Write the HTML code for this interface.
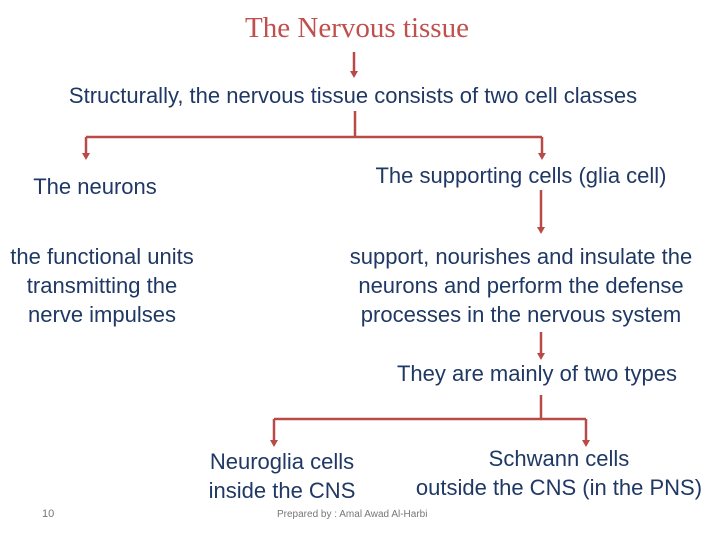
<!DOCTYPE html>
<html><head><style>
body{margin:0;width:720px;height:540px;background:#fff;position:relative;overflow:hidden;font-family:"Liberation Sans",sans-serif;}
.t{position:absolute;color:#1f3864;font-size:22px;text-align:center;white-space:nowrap;line-height:29px;transform:translateX(-50%);}
</style></head><body>
<div style="position:absolute;left:357px;top:12px;transform:translateX(-50%);font-family:'Liberation Serif',serif;font-size:29px;color:#c0504d;white-space:nowrap">The Nervous tissue</div>
<svg width="720" height="540" style="position:absolute;left:0;top:0">
<g stroke="#b84a47" stroke-width="2.5" fill="none">
<line x1="354" y1="52" x2="354" y2="72"/>
<polyline points="355,111 355,137"/>
<line x1="86" y1="137" x2="542" y2="137"/>
<line x1="86" y1="137" x2="86" y2="154"/>
<line x1="542" y1="137" x2="542" y2="154"/>
<line x1="541" y1="190" x2="541" y2="228"/>
<line x1="541" y1="332" x2="541" y2="354"/>
<polyline points="541,395 541,419"/>
<line x1="274" y1="419" x2="586" y2="419"/>
<line x1="274" y1="419" x2="274" y2="441"/>
<line x1="586" y1="419" x2="586" y2="441"/>
</g>
<g fill="#b84a47">
<path d="M350,71 L358,71 L354,78z"/>
<path d="M82,153 L90,153 L86,160z"/>
<path d="M538,153 L546,153 L542,160z"/>
<path d="M537,227 L545,227 L541,234z"/>
<path d="M537,353 L545,353 L541,360z"/>
<path d="M270,440 L278,440 L274,447z"/>
<path d="M582,440 L590,440 L586,447z"/>
</g>
</svg>
<div class="t" style="left:353px;top:81px">Structurally, the nervous tissue consists of two cell classes</div>
<div class="t" style="left:95px;top:172px">The neurons</div>
<div class="t" style="left:521px;top:161px">The supporting cells (glia cell)</div>
<div class="t" style="left:102px;top:242px">the functional units<br>transmitting the<br>nerve impulses</div>
<div class="t" style="left:521px;top:242px">support, nourishes and insulate the<br>neurons and perform the defense<br>processes in the nervous system</div>
<div class="t" style="left:537px;top:359px">They are mainly of two types</div>
<div class="t" style="left:282px;top:447px">Neuroglia cells<br>inside the CNS</div>
<div class="t" style="left:559px;top:444px">Schwann cells<br>outside the CNS (in the PNS)</div>
<div style="position:absolute;left:42px;top:508px;font-size:11px;color:#777">10</div>
<div style="position:absolute;left:277px;top:509px;font-size:10px;color:#777">Prepared by : Amal Awad Al-Harbi</div>
</body></html>
